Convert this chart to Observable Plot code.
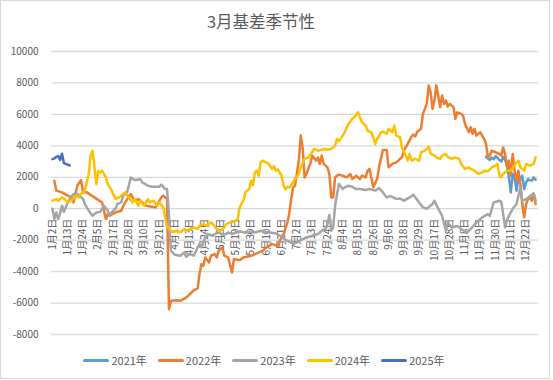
<!DOCTYPE html>
<html><head><meta charset="utf-8">
<script src="https://cdn.jsdelivr.net/npm/d3@7"></script>
<script src="https://cdn.jsdelivr.net/npm/@observablehq/plot@0.6"></script>
<style>
body{margin:0;background:#fff;}
#chart{position:relative;width:553px;height:380px;font-family:"Noto Sans CJK SC","Noto Sans",sans-serif;color:#595959;}
#frame{position:absolute;left:0;top:0;width:548px;height:377px;border:1px solid #d9d9d9;box-sizing:content-box;}
#title{position:absolute;top:11px;left:0;width:522px;text-align:center;font-size:16.5px;line-height:21px;color:#595959;}
#plot{position:absolute;left:0;top:0;}
#legend{position:absolute;top:351px;left:0;width:528px;display:flex;justify-content:center;gap:11px;font-size:11px;line-height:18px;color:#595959;}
.item{display:flex;align-items:center;gap:2px;}
.sw{width:26px;height:3px;border-radius:2px;}
</style></head>
<body>
<div id="chart">
<div id="frame"></div>
<div id="plot"></div>
<div id="title">3月基差季节性</div>
<div id="legend"></div>
</div>
<script>
const title = "3月基差季节性";
const tickLabels = ["1月2日","1月13日","1月24日","2月5日","2月17日","2月28日","3月10日","3月21日","4月1日","4月13日","4月24日","5月8日","5月19日","5月30日","6月10日","6月21日","7月2日","7月13日","7月24日","8月4日","8月15日","8月26日","9月6日","9月18日","9月29日","10月17日","10月28日","11月8日","11月19日","11月30日","12月11日","12月22日"];
const tickStep = 8;
const dayCount = 255;
const yTicks = [10000,8000,6000,4000,2000,0,-2000,-4000,-6000,-8000];
const years = ["2021年","2022年","2023年","2024年","2025年"];
const colors = ["#5B9BD5","#ED7D31","#A5A5A5","#FFC000","#4472C4"];

// [trading-day index, value]
const s2021 = [[227,3300],[228,3200],[229,3100],[230,3250],[231,3150],[232,3350],[233,3250],[234,3100],[235,3000],[236,3300],[237,3100],[238,2800],[239,2000],[240,1040],[241,2210],[242,1990],[243,1150],[244,1990],[245,1890],[246,2100],[247,1250],[248,1680],[249,1890],[250,1800],[251,1790],[252,1990],[253,1840]];
const s2022 = [[1,1780],[2,1150],[5,1040],[8,830],[10,720],[11,400],[13,1465],[15,1830],[16,1040],[18,1040],[22,720],[26,400],[28,-656],[29,-340],[30,-446],[33,-235],[36,-127],[38,400],[41,936],[43,510],[45,617],[49,190],[52,127],[54,85],[57,720],[58,830],[60,617],[61,-6400],[62,-5860],[65,-5820],[67,-5860],[70,-5650],[72,-5430],[74,-5180],[76,-5080],[77,-4160],[78,-3520],[79,-3630],[80,-3100],[82,-3420],[83,-2990],[85,-2890],[86,-3100],[87,-2680],[89,-2460],[90,-2990],[92,-3100],[94,-4060],[95,-3200],[98,-3270],[100,-3100],[104,-2990],[106,-2890],[110,-2680],[112,-2460],[115,-2250],[118,-2360],[119,-2040],[121,-1610],[123,-870],[124,-300],[125,600],[126,1360],[127,1465],[129,3060],[130,4650],[131,3900],[132,1990],[133,2210],[135,2850],[136,3376],[138,3060],[139,3270],[140,2850],[141,3380],[142,2850],[144,2630],[145,2210],[146,720],[147,720],[148,1990],[149,2100],[150,2170],[152,2100],[154,1990],[156,2210],[157,1890],[159,2100],[161,1890],[162,2100],[164,1990],[165,2420],[166,2530],[168,1360],[170,1890],[171,2630],[173,3740],[175,3740],[176,2630],[178,2850],[180,2950],[181,3060],[183,3270],[184,3690],[186,4120],[188,4590],[189,4710],[190,4600],[191,4900],[193,5080],[194,6030],[196,6670],[197,7840],[198,7410],[199,6350],[200,6880],[201,7840],[202,7200],[203,6460],[204,7200],[205,6670],[206,6880],[207,6500],[208,6670],[210,6460],[211,5710],[212,6130],[214,6030],[215,5920],[216,5400],[218,4860],[219,5180],[220,4760],[221,5080],[222,4650],[224,4860],[226,4440],[227,4120],[228,3270],[229,3380],[230,3690],[232,3590],[234,3480],[235,3380],[236,3900],[237,3480],[238,2630],[239,3060],[240,2100],[241,3480],[242,2420],[243,1780],[244,2420],[245,1570],[246,300],[247,-550],[248,300],[249,620],[250,720],[251,510],[252,940],[253,300]];
const s2023 = [[0,0],[1,-656],[2,-235],[3,-656],[4,-300],[5,190],[6,-200],[8,400],[9,617],[11,936],[13,936],[14,830],[16,617],[17,300],[19,-127],[21,-446],[23,-235],[25,-200],[27,190],[29,-127],[30,-446],[31,-235],[33,0],[34,300],[36,400],[37,830],[39,1040],[40,1465],[41,1990],[43,1830],[44,1830],[46,1890],[47,1680],[50,1465],[52,1400],[56,1400],[57,1530],[59,1250],[60,1250],[61,-340],[62,-2680],[63,-2780],[64,-2930],[67,-2990],[69,-2780],[70,-3060],[72,-2870],[74,-2990],[76,-2460],[77,-2250],[78,-2460],[80,-1830],[81,-1610],[84,-1720],[85,-1610],[87,-1510],[89,-1650],[91,-1610],[92,-1510],[94,-1610],[96,-1510],[98,-1450],[101,-1510],[104,-1450],[106,-1510],[109,-1400],[111,-1450],[114,-1510],[117,-1570],[119,-1720],[122,-1980],[125,-2150],[126,-2250],[128,-2150],[131,-1930],[133,-1830],[136,-1720],[139,-1610],[141,-1400],[143,-1290],[144,-975],[145,-400],[146,-1400],[147,-1190],[148,200],[149,936],[150,1570],[152,1250],[153,1360],[155,1465],[157,1400],[159,1250],[161,1250],[164,1190],[166,1250],[169,1150],[171,1320],[173,1040],[175,720],[177,800],[180,620],[182,650],[184,510],[187,720],[189,890],[192,400],[194,85],[196,0],[199,300],[200,510],[202,0],[204,-446],[206,-1400],[207,-870],[209,-1190],[212,-1100],[214,-1290],[217,-1510],[219,-1290],[222,-870],[225,-550],[228,-340],[229,-446],[231,400],[234,510],[235,450],[236,-340],[237,-1190],[238,-700],[240,-235],[241,0],[243,300],[245,1360],[246,500],[248,617],[249,700],[252,980],[253,500]];
const s2024 = [[0,510],[2,617],[3,510],[5,720],[7,560],[8,400],[10,510],[12,830],[14,720],[15,936],[17,1150],[19,2210],[20,3380],[21,3690],[22,2600],[23,1570],[24,2420],[25,2300],[26,2420],[28,1990],[29,1570],[31,1150],[33,617],[35,720],[36,830],[38,1040],[40,720],[42,400],[43,617],[45,190],[46,500],[48,190],[50,617],[51,400],[53,510],[55,190],[56,400],[58,100],[59,-550],[60,-1190],[61,-1190],[62,-1400],[63,-1500],[65,-1400],[67,-1500],[69,-1290],[70,-1400],[72,-1290],[74,-1190],[76,-1290],[77,-1080],[79,-975],[81,-1080],[83,-870],[84,-975],[86,-1290],[88,-1400],[90,-1190],[91,-975],[93,-870],[95,-810],[97,-656],[98,85],[99,300],[100,510],[101,1040],[103,1250],[104,1780],[105,1500],[106,2310],[107,2420],[108,2100],[109,2950],[110,3060],[111,3000],[113,2890],[115,2530],[116,2700],[117,2420],[118,2500],[120,2100],[121,1465],[122,1250],[123,1400],[124,1360],[125,1500],[127,1890],[129,2210],[130,2630],[132,3170],[134,3270],[136,3590],[137,3800],[139,3690],[141,3750],[143,3800],[144,3750],[146,3800],[148,4010],[149,4440],[150,4300],[152,4650],[153,4860],[155,5400],[157,5710],[158,5820],[160,6130],[161,5820],[162,5500],[164,5290],[165,4970],[167,4860],[168,4540],[169,4120],[170,4440],[172,4860],[173,4900],[175,4760],[176,5080],[178,4860],[179,5290],[180,4650],[182,4550],[183,3900],[185,3380],[186,3060],[187,3480],[188,3060],[190,3170],[192,3060],[193,3590],[195,3690],[197,3950],[198,3500],[200,3380],[201,3270],[203,3170],[204,3380],[206,3480],[207,3300],[209,3170],[211,3270],[213,3170],[214,2850],[216,2530],[218,2630],[219,2530],[221,2420],[223,2210],[225,2300],[226,2420],[228,2380],[230,2630],[232,2740],[233,2850],[234,2100],[235,2000],[236,2210],[238,2420],[240,2420],[241,2630],[243,2950],[244,3060],[245,2630],[247,2420],[248,2850],[250,2740],[252,2850],[253,3270]];
const s2025 = [[0,3150],[1,3200],[2,3300],[3,3350],[4,3100],[5,3500],[6,2900],[7,2850],[8,2800],[9,2750]];

const seriesList = [s2021, s2022, s2023, s2024, s2025];
const rows = seriesList.flatMap((s, k) => s.map(([i, v]) => ({i, v, year: years[k]})));
const ticks = tickLabels.map((label, k) => ({i: k * tickStep, label}));

const chart = Plot.plot({
  width: 553, height: 345,
  marginLeft: 51, marginRight: 15, marginTop: 51, marginBottom: 11,
  style: {fontFamily: '"Noto Sans CJK SC","Noto Sans",sans-serif', fontSize: "10px", color: "#595959", background: "transparent"},
  x: {domain: [-0.5, dayCount - 0.5], axis: null},
  y: {domain: [-8000, 10000], axis: null},
  color: {domain: years, range: colors},
  marks: [
    Plot.ruleY(yTicks, {stroke: "#d9d9d9", strokeWidth: 1.3}),
    Plot.text(yTicks, {x: -0.5, y: d => d, text: d => String(d), textAnchor: "end", dx: -13, fill: "#595959", fontSize: 10}),
    Plot.text(ticks, {x: "i", y: () => 0, text: "label", rotate: -90, textAnchor: "end", dy: 10, fill: "#595959", fontSize: 10}),
    Plot.line(rows, {x: "i", y: "v", z: "year", stroke: "year", strokeWidth: 2.5, strokeLinejoin: "round", strokeLinecap: "round"})
  ]
});
document.getElementById("plot").appendChild(chart);

const legend = document.getElementById("legend");
years.forEach((y, k) => {
  const it = document.createElement("div"); it.className = "item";
  const sw = document.createElement("div"); sw.className = "sw"; sw.style.background = colors[k];
  const tx = document.createElement("span"); tx.textContent = y;
  it.appendChild(sw); it.appendChild(tx); legend.appendChild(it);
});
</script>
</body></html>
